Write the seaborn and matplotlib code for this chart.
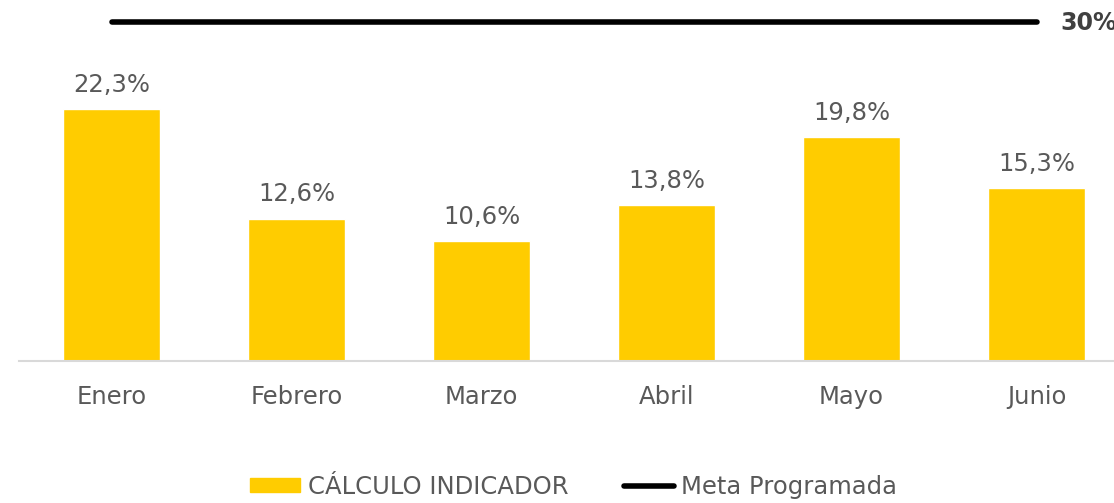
import numpy as np
import pandas as pd
import matplotlib.pyplot as plt
import seaborn as sns
from matplotlib.lines import Line2D
from matplotlib.patches import Patch

meses = ['Enero', 'Febrero', 'Marzo', 'Abril', 'Mayo', 'Junio']
calculo = [22.3, 12.6, 10.6, 13.8, 19.8, 15.3]
meta = [30, 30, 30, 30, 30, 30]

amarillo = '#FFCC00'
gris = '#595959'

sns.set_theme(style='white')
plt.rcParams['font.family'] = ['DejaVu Sans']

df = pd.DataFrame({'Mes': meses, 'Valor': calculo})

fig = plt.figure(figsize=(11.14, 5.03), dpi=100)
ax = fig.add_axes([19 / 1114, 142 / 503, 1110 / 1114, 361 / 503])

sns.barplot(data=df, x='Mes', y='Valor', color=amarillo, width=0.525,
            saturation=1, ax=ax)
ax.plot(range(len(meses)), meta, color='black', lw=4, solid_capstyle='round')

for i, v in enumerate(calculo):
    ax.annotate(f'{v:.1f}%'.replace('.', ','), (i, v), xytext=(0, 9),
                textcoords='offset points', ha='center', va='bottom',
                fontsize=17.5, color=gris)
ax.annotate(f'{meta[-1]}%', (len(meses) - 1, meta[-1]), xytext=(17, -1),
            textcoords='offset points', ha='left', va='center',
            fontsize=17, fontweight='bold', color='#404040',
            annotation_clip=False)

ax.set_xlim(-0.5, len(meses) - 0.5)
ax.set_ylim(0, 31.95)
ax.set_xlabel('')
ax.set_ylabel('')
ax.set_yticks([])
ax.tick_params(axis='x', length=0, pad=17, labelsize=17.5, labelcolor=gris)
for s in ['top', 'right', 'left']:
    ax.spines[s].set_visible(False)
ax.spines['bottom'].set_color('#D9D9D9')
ax.spines['bottom'].set_linewidth(1.5)

handles = [Patch(color=amarillo, label='CÁLCULO INDICADOR'),
           Line2D([0], [0], color='black', lw=4, label='Meta Programada')]
fig.legend(handles=handles, loc='lower center', bbox_to_anchor=(0.515, -0.035),
           ncol=2, frameon=False, fontsize=17.5, handlelength=2.05,
           handleheight=0.55, handletextpad=0.3, columnspacing=2.3,
           labelcolor=gris)

fig.savefig('out.png', dpi=100)
